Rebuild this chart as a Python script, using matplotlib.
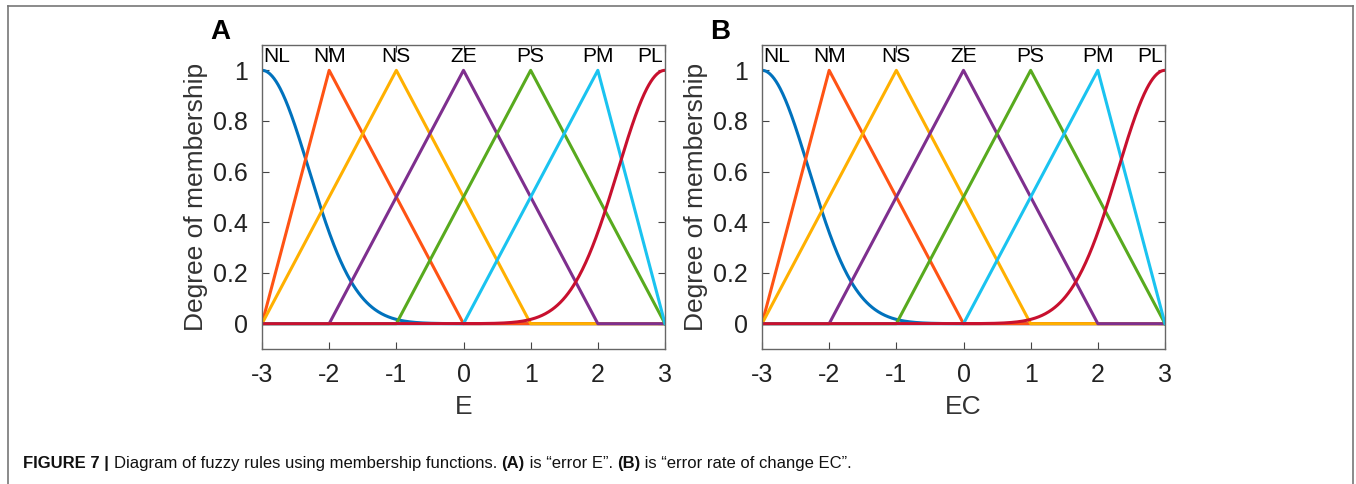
import numpy as np
import matplotlib.pyplot as plt

# membership functions (same set on E and EC)
mf_names = ['NL', 'NM', 'NS', 'ZE', 'PS', 'PM', 'PL']
mf_colors = ['#0072BD', '#FF5314', '#FFB000', '#7E2F8E', '#58AA1E', '#1AC3F0', '#C8102E']
# triangle params (a, b, c) for the inner sets
tri_params = {
    'NM': (-3, -2, 0),
    'NS': (-3, -1, 1),
    'ZE': (-2, 0, 2),
    'PS': (-1, 1, 3),
    'PM': (0, 2, 3),
}
# gaussian params (sigma, center) for the outer sets
gauss_params = {
    'NL': (0.7, -3),
    'PL': (0.7, 3),
}
label_pos = [-2.78, -2, -1, 0, 1, 2, 2.78]
x_range = (-3, 3)
panels = [('A', 'E'), ('B', 'EC')]

plt.rcParams['font.family'] = ['Liberation Sans', 'DejaVu Sans']
plt.rcParams['axes.unicode_minus'] = False

fig = plt.figure(figsize=(13.56, 4.84), dpi=100)

# light frame round the figure (top, left, right)
frame = dict(transform=fig.transFigure, color='#777777', lw=1.2)
fig.add_artist(plt.Line2D([8/1356, 8/1356], [0, 1 - 6/484], **frame))
fig.add_artist(plt.Line2D([8/1356, 1353/1356], [1 - 6/484, 1 - 6/484], **frame))
fig.add_artist(plt.Line2D([1353/1356, 1353/1356], [0, 1 - 6/484], **frame))

x = np.linspace(x_range[0], x_range[1], 601)

lefts = [262/1356, 762/1356]
for (tag, xlab), left in zip(panels, lefts):
    ax = fig.add_axes([left, 1 - 349/484, 403/1356, 304/484])
    for name, col in zip(mf_names, mf_colors):
        if name in gauss_params:
            s, c = gauss_params[name]
            y = np.exp(-(x - c) ** 2 / (2 * s ** 2))
            ax.plot(x, y, color=col, lw=2.2)
        else:
            a, b, c = tri_params[name]
            ax.plot([x_range[0], a, b, c, x_range[1]], [0, 0, 1, 0, 0], color=col, lw=2.2)
    for name, xp in zip(mf_names, label_pos):
        ax.text(xp, 1.055, name, ha='center', va='center', fontsize=15)
    ax.set_xlim(*x_range)
    ax.set_ylim(-0.1, 1.1)
    ax.set_xticks(range(-3, 4))
    ax.set_yticks([0, 0.2, 0.4, 0.6, 0.8, 1])
    ax.set_yticklabels(['0', '0.2', '0.4', '0.6', '0.8', '1'])
    ax.tick_params(direction='in', top=True, right=True, length=5, width=0.8,
                   color='#444444', labelsize=18, pad=10, labelcolor='#222222')
    for sp in ax.spines.values():
        sp.set_color('#666666')
        sp.set_linewidth(1.0)
    ax.set_xlabel(xlab, fontsize=19, color='#333333', labelpad=6)
    ax.set_ylabel('Degree of membership', fontsize=19, color='#333333', labelpad=4)
    fig.text(left - 52/1356, 1 - 32/484, tag, fontsize=20, fontweight='bold', ha='left', va='center')

# caption, built from pieces so the bold parts sit inline
cap_family = ['Liberation Sans Narrow', 'Liberation Sans', 'DejaVu Sans']
pieces = [
    ('FIGURE 7 | ', 'bold'),
    ('Diagram of fuzzy rules using membership functions. ', 'normal'),
    ('(A)', 'bold'),
    (' is \u201cerror E\u201d. ', 'normal'),
    ('(B)', 'bold'),
    (' is \u201cerror rate of change EC\u201d.', 'normal'),
]
anchor = fig.text(23/1356, 1 - 471/484, pieces[0][0], fontsize=12, fontweight=pieces[0][1],
                  family=cap_family, ha='left', va='bottom', color='#111111')
for txt, wt in pieces[1:]:
    anchor = fig.add_artist(plt.Annotation(txt, xy=(1, 0), xycoords=anchor, xytext=(0, 0),
                                           textcoords='offset points', fontsize=12, fontweight=wt,
                                           family=cap_family, ha='left', va='bottom', color='#111111'))

fig.savefig('out.png', dpi=100)
